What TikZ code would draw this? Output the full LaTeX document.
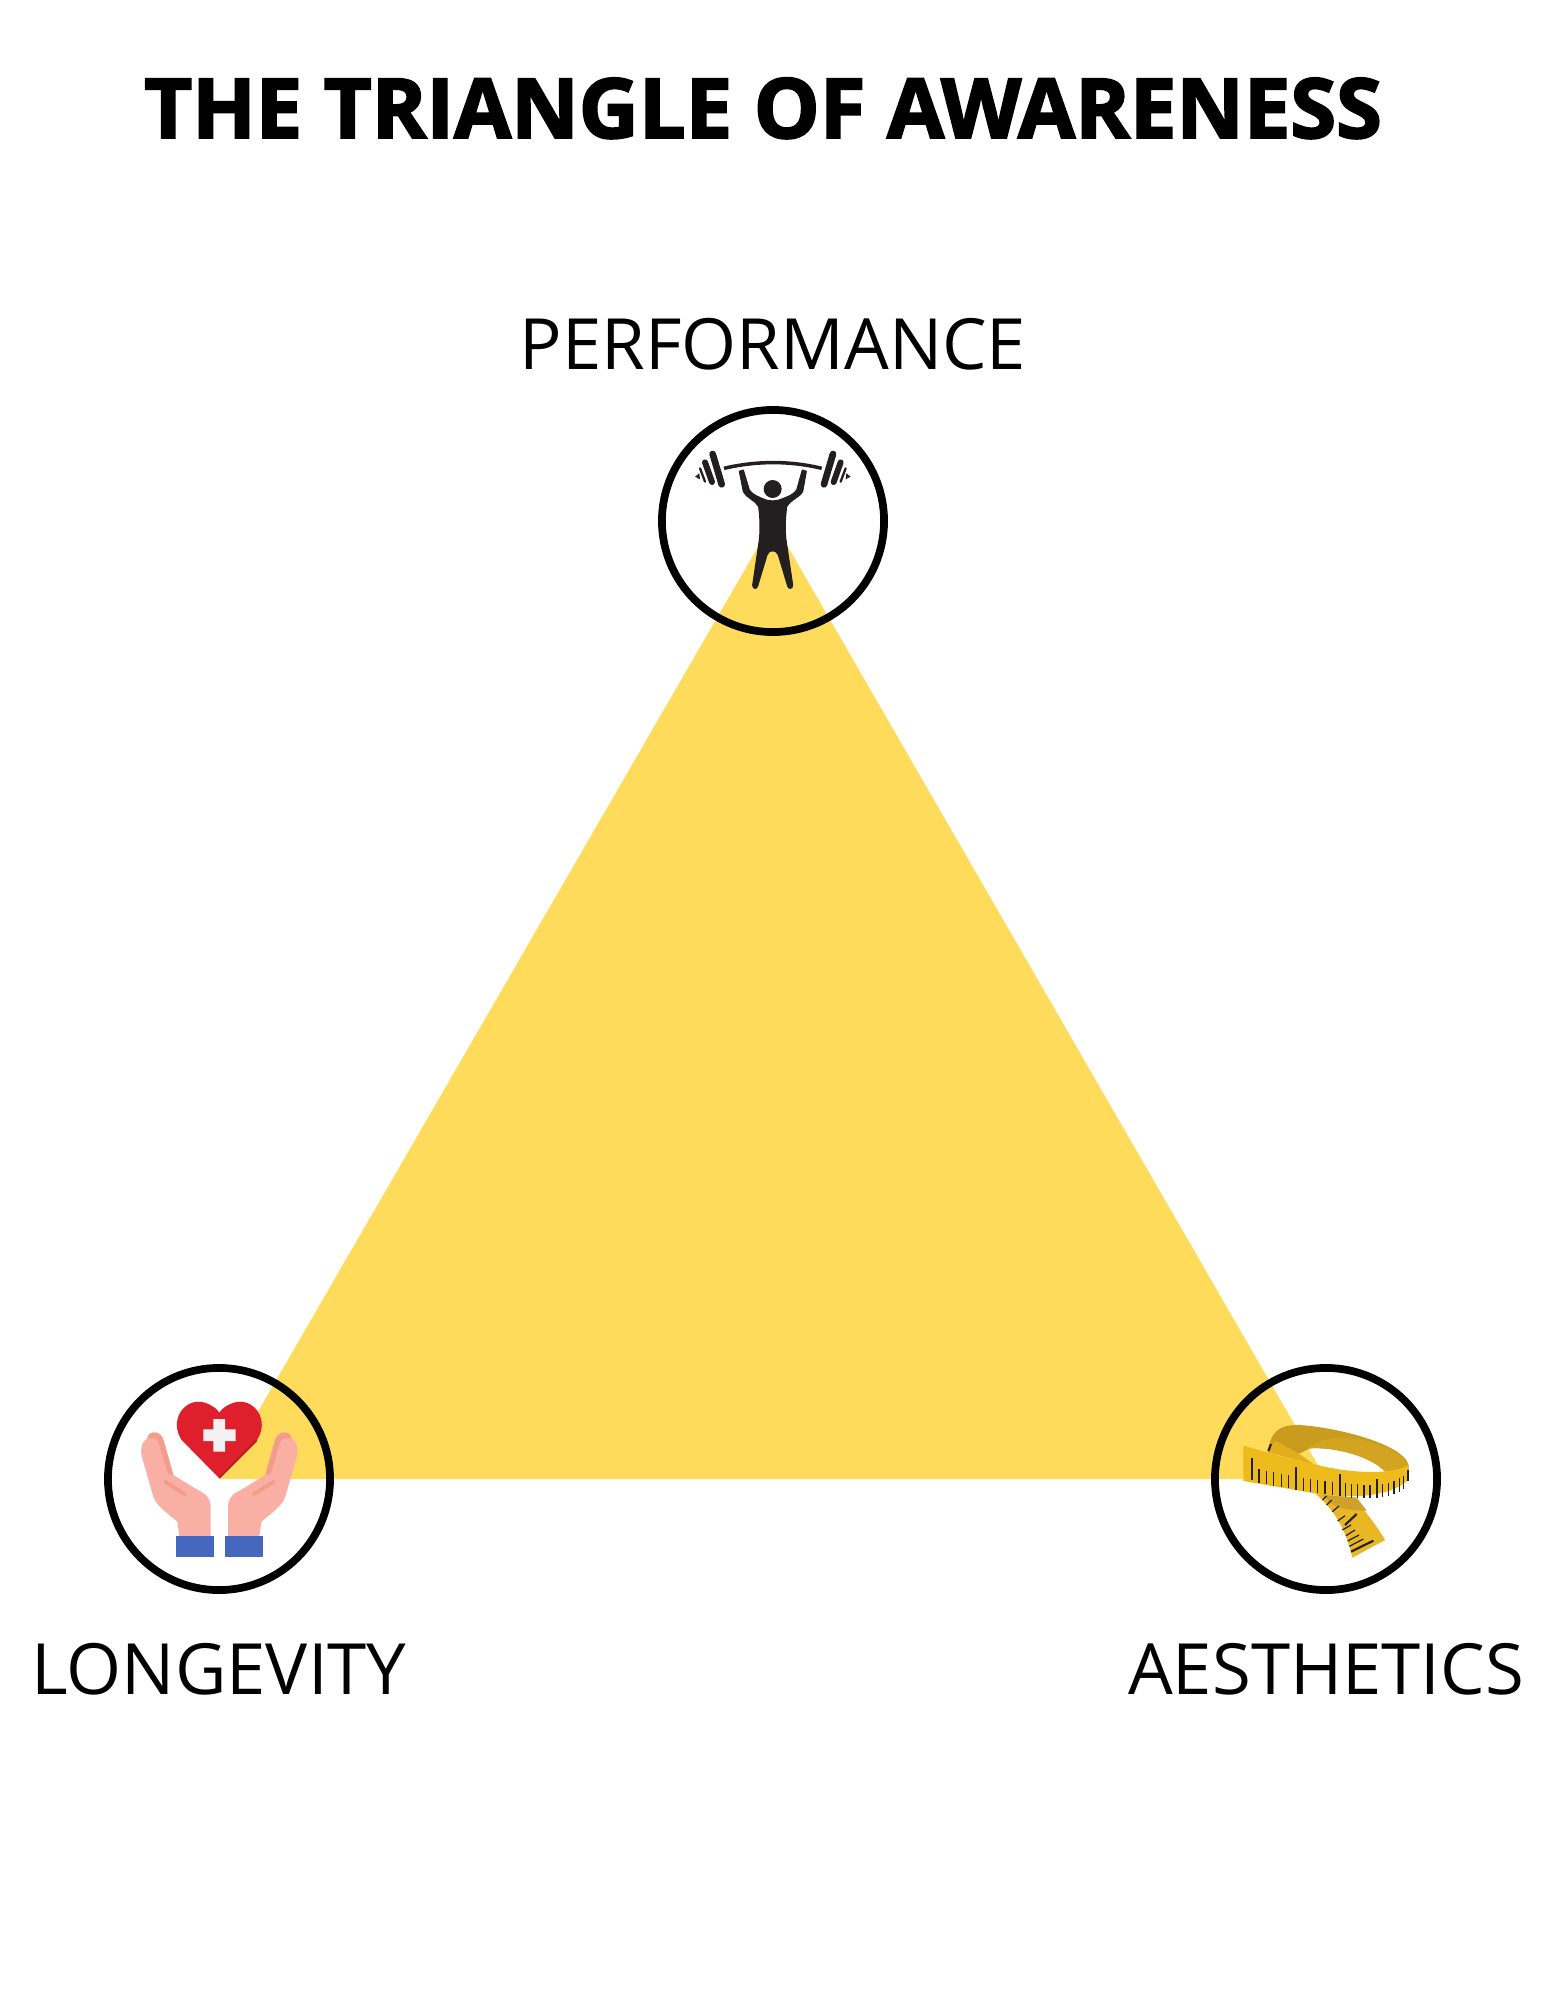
\documentclass[tikz,border=0pt]{standalone}
\usepackage{fontspec}
\setmainfont{Open Sans}
\newfontfamily\titlefont[FakeBold=2.4]{Open Sans Bold}
\definecolor{triyellow}{HTML}{FEDB5B}
\definecolor{liftblack}{HTML}{231F20}
\definecolor{heartred}{HTML}{E01F2D}
\definecolor{heartdark}{HTML}{B91C28}
\definecolor{skin}{HTML}{F9AFA3}
\definecolor{skindark}{HTML}{F39C8D}
\definecolor{cuffblue}{HTML}{4568BE}
\definecolor{tapefront}{HTML}{EDBC1C}
\definecolor{tapetail}{HTML}{E9B624}
\definecolor{tapeflap}{HTML}{E3AE1B}
\definecolor{tapeback}{HTML}{C99C1E}
\definecolor{tapelight}{HTML}{D2A41F}
\definecolor{tapeshade}{HTML}{CDA12A}
\tikzset{
	iconring/.style={circle,draw=black,line width=2.2pt,minimum size=2.22cm,inner sep=0pt},
	vertexlabel/.style={font=\fontsize{20.1pt}{24pt}\selectfont,text=black,inner sep=0pt,anchor=base},
	plate/.style={line cap=round,draw=liftblack},
	tapetick/.style={draw=liftblack,line width=0.35pt},
	tapebigtick/.style={draw=liftblack,line width=0.6pt}
}
\begin{document}
\begin{tikzpicture}[x=0.01cm,y=-0.01cm]
	\useasboundingbox (0,0) rectangle (1545,2000);
	% vertices of the triangle
	\coordinate (top) at (773,521);
	\coordinate (left) at (219,1479);
	\coordinate (right) at (1326,1479);
	\fill[triyellow] (top) -- (right) -- (left) -- cycle;
	% lifter
	\begin{scope}[shift={(680,440)},scale=1/3]
		\draw[liftblack,line width=1pt] (132,85) .. controls (230,62) and (330,62) .. (425,85);
		\draw[plate,line width=1.9pt] (98,42) -- (125,133);
		\draw[plate,line width=1.7pt] (75,67) -- (96,126);
		\draw[plate,line width=0.65pt] (60,85) -- (75,125);
		\draw[plate,line width=1.9pt] (459,42) -- (432,133);
		\draw[plate,line width=1.7pt] (482,67) -- (461,126);
		\draw[plate,line width=0.65pt] (497,85) -- (482,125);
		\fill[liftblack] (45,110) -- (58,100) -- (60,118) -- cycle;
		\fill[liftblack] (512,110) -- (499,100) -- (497,118) -- cycle;
		\fill[liftblack] (278,147) circle (27);
		\filldraw[liftblack,line width=0.3pt,line join=round] (178,94) -- (190,90) -- (208,150) .. controls (218,165) and (235,170) .. (248,176) .. controls (265,185) and (291,185) .. (308,176)
			.. controls (322,170) and (340,165) .. (350,150) -- (367,90) -- (379,94) -- (368,155) .. controls (355,175) and (330,180) .. (320,200) .. controls (315,240) and (315,270) .. (318,300)
			-- (338,435) .. controls (338,448) and (325,448) .. (323,438) -- (295,345) .. controls (290,328) and (266,328) .. (261,345) -- (233,438)
			.. controls (231,448) and (218,448) .. (218,435) -- (238,300) .. controls (241,270) and (241,240) .. (236,200) .. controls (226,180) and (200,175) .. (190,155) -- cycle;
	\end{scope}
	% heart and hands
	\begin{scope}[shift={(90,1330)},scale=1/3]
		\fill[heartred] (388,445) -- (275,330) .. controls (235,270) and (285,200) .. (345,218) .. controls (365,225) and (380,235) .. (388,248)
			.. controls (396,235) and (411,225) .. (431,218) .. controls (491,200) and (541,270) .. (501,330) -- cycle;
		\draw[heartdark,line width=0.5pt] (388,443) -- (500,331);
		\fill[white!95!black] (370,298) -- (370,267) -- (405,267) -- (405,298) -- (437,298) -- (437,333) -- (405,333) -- (405,365) -- (370,365) -- (370,333) -- (340,333) -- (340,298) -- cycle;
		\fill[skin] (268,618) -- (362,618) -- (362,530) .. controls (360,500) and (345,490) .. (320,478) -- (250,435) -- (222,335) .. controls (215,300) and (175,300) .. (172,325)
			.. controls (150,340) and (150,365) .. (160,395) -- (190,500) .. controls (200,530) and (240,555) .. (262,575) -- cycle;
		\fill[skin] (508,618) -- (414,618) -- (414,530) .. controls (416,500) and (431,490) .. (456,478) -- (526,435) -- (554,335) .. controls (561,300) and (601,300) .. (604,325)
			.. controls (626,340) and (626,365) .. (616,395) -- (586,500) .. controls (576,530) and (536,555) .. (514,575) -- cycle;
		\fill[skindark] (172,325) .. controls (175,300) and (215,300) .. (222,335) -- (250,435) -- (234,432) -- (205,335) .. controls (200,325) and (185,322) .. (172,325) -- cycle;
		\fill[skindark] (604,325) .. controls (601,300) and (561,300) .. (554,335) -- (526,435) -- (542,432) -- (571,335) .. controls (576,325) and (591,322) .. (604,325) -- cycle;
		\draw[skindark,line width=1pt,line cap=round] (225,455) -- (285,493);
		\draw[skindark,line width=1pt,line cap=round] (551,455) -- (491,493);
		\fill[cuffblue] (258,618) rectangle (371,681);
		\fill[cuffblue] (404,618) rectangle (518,681);
	\end{scope}
	% measuring tape
	\begin{scope}[shift={(1235,1415)},scale=1/3]
		\fill[tapeback] (98,112) .. controls (108,50) and (130,30) .. (190,30) .. controls (300,35) and (525,90) .. (522,160) -- (450,170)
			.. controls (410,125) and (300,95) .. (225,100) -- (195,115) -- cycle;
		\fill[tapelight] (215,102) .. controls (260,65) and (330,60) .. (400,80) .. controls (470,100) and (520,130) .. (522,160) -- (450,170) .. controls (410,125) and (300,95) .. (225,100) -- cycle;
		\fill[tapeflap] (98,112) -- (120,76) -- (190,115) -- (240,150) -- cycle;
		\draw[tapebigtick] (100,108) -- (108,87);
		\fill[tapetail] (240,235) -- (360,248) .. controls (385,285) and (425,330) .. (450,375) -- (352,428) .. controls (335,350) and (300,285) .. cycle;
		\fill[tapeshade] (262,240) -- (365,248) -- (395,287) .. controls (360,285) and (310,285) .. (285,262) -- cycle;
		\fill[tapefront] (25,92) -- (140,125) .. controls (200,140) and (225,147) .. (240,148) .. controls (320,170) and (460,185) .. (522,150) -- (520,195)
			.. controls (470,240) and (370,255) .. (240,235) -- (25,198) -- cycle;
		\foreach \tx/\ta/\tb in {50/128/196,183/157/225,315/178/243,425/193/250,518/165/197}
			\draw[tapebigtick] (\tx,\ta) -- (\tx,\tb);
		\foreach \tx/\ty in {72/203,95/207,116/212,139/216,161/220,205/228,226/231,248/235,270/238,292/241,332/245,350/248,368/248,387/250,405/250,442/247,460/243,477/238,493/230,505/222}
			\draw[tapetick] (\tx,\ty-40) -- (\tx,\ty);
		\draw[tapebigtick] (330,330) -- (365,297);
		\draw[tapebigtick] (348,410) -- (415,377);
		\foreach \ta/\tb/\tc/\td in {262/255/275/243,275/270/290/255,292/290/312/273,308/318/330/302,322/345/348/330,333/362/360/345,338/378/372/360,343/394/385/372}
			\draw[tapetick] (\ta,\tb) -- (\tc,\td);
	\end{scope}
	% rings, drawn last so that they sit on the icons
	\node[iconring] (performance) at (top) {};
	\node[iconring] (longevity) at (left) {};
	\node[iconring] (aesthetics) at (right) {};
	% texts
	\node[font=\titlefont\fontsize{23.6pt}{28pt}\selectfont,inner sep=0pt,anchor=base] (heading) at (763,138) {THE TRIANGLE OF AWARENESS};
	\node[vertexlabel] (perflabel) at (773,369) {PERFORMANCE};
	\node[vertexlabel] (longlabel) at (219,1694) {LONGEVITY};
	\node[vertexlabel] (aestlabel) at (1326,1694) {AESTHETICS};
\end{tikzpicture}
\end{document}
